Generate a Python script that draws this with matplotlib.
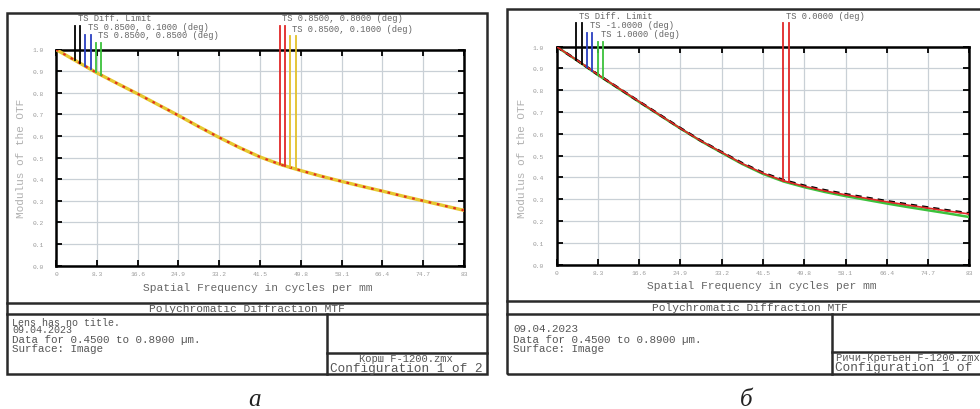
import numpy as np
import matplotlib
matplotlib.use("Agg")
import matplotlib.pyplot as plt
from matplotlib.lines import Line2D
from matplotlib.patches import Rectangle

# ---------------- data ----------------
freq = [0, 4.15, 8.3, 12.45, 16.6, 20.75, 24.9, 29.05, 33.2, 37.35, 41.5,
        45.65, 49.8, 53.95, 58.1, 62.25, 66.4, 70.55, 74.7, 78.85, 83]
x_ticks = [0, 8.3, 16.6, 24.9, 33.2, 41.5, 49.8, 58.1, 66.4, 74.7, 83]
x_tick_labels = ["0", "8.3", "16.6", "24.9", "33.2", "41.5", "49.8", "58.1", "66.4", "74.7", "83"]
y_ticks = [0.0, 0.1, 0.2, 0.3, 0.4, 0.5, 0.6, 0.7, 0.8, 0.9, 1.0]
y_tick_labels = ["0.0", "0.1", "0.2", "0.3", "0.4", "0.5", "0.6", "0.7", "0.8", "0.9", "1.0"]

# panel a (Korsch)
left_mtf = [1.000, 0.946, 0.892, 0.843, 0.795, 0.745, 0.695, 0.643, 0.593, 0.546, 0.503,
            0.468, 0.440, 0.414, 0.390, 0.367, 0.345, 0.322, 0.300, 0.278, 0.256]
# panel b (Ritchey-Chretien)
right_mtf_red = [1.000, 0.937, 0.872, 0.810, 0.748, 0.686, 0.625, 0.567, 0.515, 0.463, 0.419,
                 0.384, 0.359, 0.338, 0.320, 0.304, 0.288, 0.273, 0.259, 0.245, 0.232]
right_mtf_black = [1.000, 0.937, 0.872, 0.810, 0.748, 0.687, 0.626, 0.568, 0.516, 0.465, 0.421,
                   0.387, 0.362, 0.341, 0.323, 0.307, 0.291, 0.276, 0.262, 0.248, 0.235]
right_mtf_green = [1.000, 0.936, 0.870, 0.808, 0.746, 0.685, 0.624, 0.566, 0.513, 0.461, 0.416,
                   0.381, 0.355, 0.333, 0.314, 0.297, 0.280, 0.264, 0.249, 0.234, 0.218]

# legend markers (frequency of each T/S marker line, top level, colour)
left_leg_freq = [3.9, 4.9, 5.9, 7.1, 8.1, 9.1, 45.5, 46.5, 47.6, 48.8]
left_leg_top = [1.110, 1.110, 1.067, 1.067, 1.030, 1.030, 1.110, 1.110, 1.061, 1.061]
left_leg_col = ["k", "k", "#2a3fc0", "#2a3fc0", "#3cc23c", "#3cc23c",
                "#e02828", "#e02828", "#e3c22a", "#e3c22a"]
left_leg_labels = ["TS Diff. Limit", "TS 0.8500, 0.1000 (deg)", "TS 0.8500, 0.8500 (deg)",
                   "TS 0.8500, 0.8000 (deg)", "TS 0.8500, 0.1000 (deg)"]
left_leg_label_idx = [0, 2, 4, 6, 8]

right_leg_freq = [3.9, 5.15, 6.16, 7.16, 8.37, 9.26, 45.6, 46.8]
right_leg_top = [1.107, 1.107, 1.063, 1.063, 1.023, 1.023, 1.107, 1.107]
right_leg_col = ["k", "k", "#2a3fc0", "#2a3fc0", "#3cc23c", "#3cc23c", "#e02828", "#e02828"]
right_leg_labels = ["TS Diff. Limit", "TS -1.0000 (deg)", "TS 1.0000 (deg)", "TS 0.0000 (deg)"]
right_leg_label_idx = [0, 2, 4, 6]

MONO = "Liberation Mono"
W, H = 980, 410

fig = plt.figure(figsize=(9.8, 4.1), dpi=100)
fig.patch.set_facecolor("white")


def fx(x):
    return x / W


def fy(y):
    return 1 - y / H


def hline(y, x0, x1, lw=1.8):
    fig.add_artist(Line2D([fx(x0), fx(x1)], [fy(y), fy(y)], color="#2a2a2a", lw=lw,
                          transform=fig.transFigure))


def vline(x, y0, y1, lw=1.8):
    fig.add_artist(Line2D([fx(x), fx(x)], [fy(y0), fy(y1)], color="#2a2a2a", lw=lw,
                          transform=fig.transFigure))


def ftext(x, y, s, size=8, ha="left", color="#555555", va="center", **kw):
    fig.text(fx(x), fy(y), s, fontsize=size, ha=ha, va=va, color=color,
             family=MONO, **kw)


def make_axes(l, t, r, b):
    ax = fig.add_axes([fx(l), fy(b), fx(r) - fx(l), fy(t) - fy(b)])
    ax.set_xlim(0, 83)
    ax.set_ylim(0, 1)
    ax.set_xticks(x_ticks)
    ax.set_xticklabels(x_tick_labels)
    ax.set_yticks(y_ticks)
    ax.set_yticklabels(y_tick_labels)
    ax.grid(True, color="#c9d0d6", lw=0.9)
    ax.set_axisbelow(True)
    for s in ax.spines.values():
        s.set_linewidth(1.8)
        s.set_color("black")
    ax.tick_params(direction="in", length=4, width=1.3, top=True, right=True,
                   labelsize=4.5, labelcolor="#9a9a9a")
    ax.tick_params(axis="y", pad=9)
    ax.tick_params(axis="x", pad=4)
    for lab in ax.get_xticklabels() + ax.get_yticklabels():
        lab.set_family(MONO)
    return ax


def legend_marks(ax, curve_x, curve_y, lf, lt, lc, labels, idx):
    for f, t, c in zip(lf, lt, lc):
        bottom = np.interp(f, curve_x, curve_y)
        ax.plot([f, f], [bottom, t], color=c, lw=1.3, clip_on=False, zorder=5)
    for lab, i in zip(labels, idx):
        ax.annotate(lab, xy=(lf[i], lt[i]), xytext=(1.8, 5.8), textcoords="offset points",
                    fontsize=6.3, family=MONO, color="#666666", ha="left", va="center",
                    annotation_clip=False)


# ---------------- panel a ----------------
fig.add_artist(Rectangle((fx(7), fy(375)), fx(487) - fx(7), fy(14) - fy(375),
                         transform=fig.transFigure, fill=False, ec="#2a2a2a", lw=1.8))
hline(304.3, 7, 487)
hline(314.5, 7, 487)
vline(326.7, 314.5, 375)
hline(354.3, 326.7, 487)

ax1 = make_axes(56, 50.5, 464, 266.7)
ax1.plot(freq, left_mtf, color="k", lw=1.0, zorder=3)
ax1.plot(freq, left_mtf, color="#e6c830", lw=2.4, zorder=3)
ax1.plot(freq, left_mtf, color="#e03020", lw=1.6, ls=(0, (1.2, 2.6)), zorder=4)
legend_marks(ax1, freq, left_mtf, left_leg_freq, left_leg_top, left_leg_col,
             left_leg_labels, left_leg_label_idx)

ftext(258, 288, "Spatial Frequency in cycles per mm", size=8.1, ha="center", color="#666666")
fig.text(fx(21), fy(158), "Modulus of the OTF", rotation=90, fontsize=8, family=MONO,
         color="#b0b0b0", ha="center", va="center")
ftext(247, 309.3, "Polychromatic Diffraction MTF", size=8.1, ha="center")
ftext(12, 325.6, "Lens has no title.", size=7.2, va="baseline")
ftext(12, 333.2, "09.04.2023", size=7.2, va="baseline")
ftext(12, 340, "Data for 0.4500 to 0.8900 \u00b5m.", size=7.8)
ftext(12, 349, "Surface: Image", size=7.8)
ftext(406, 359, "Корш F-1200.zmx", size=7.6, ha="center")
ftext(406, 369, "Configuration 1 of 2", size=9.2, ha="center")

# ---------------- panel b ----------------
fig.add_artist(Rectangle((fx(507), fy(375)), fx(1000) - fx(507), fy(10) - fy(375),
                         transform=fig.transFigure, fill=False, ec="#2a2a2a", lw=1.8))
hline(301.7, 507, 990)
hline(315, 507, 990)
vline(831.7, 315, 375)
hline(352.7, 831.7, 990)

ax2 = make_axes(556.7, 47.7, 969.3, 265.5)
ax2.plot(freq, right_mtf_green, color="#3cc23c", lw=1.8, zorder=3)
ax2.plot(freq, right_mtf_black, color="k", lw=1.8, ls=(0, (2.5, 2.0)), zorder=3)
ax2.plot(freq, right_mtf_red, color="#e02828", lw=1.2, zorder=4)
legend_marks(ax2, freq, right_mtf_red, right_leg_freq, right_leg_top, right_leg_col,
             right_leg_labels, right_leg_label_idx)

ftext(762, 286.5, "Spatial Frequency in cycles per mm", size=8.1, ha="center", color="#666666")
fig.text(fx(522), fy(158), "Modulus of the OTF", rotation=90, fontsize=8, family=MONO,
         color="#b0b0b0", ha="center", va="center")
ftext(750, 308.5, "Polychromatic Diffraction MTF", size=8.1, ha="center")
ftext(513, 328.7, "09.04.2023", size=7.8)
ftext(513, 340, "Data for 0.4500 to 0.8900 \u00b5m.", size=7.8)
ftext(513, 349, "Surface: Image", size=7.8)
ftext(836, 358.2, "Ричи-Кретьен F-1200.zmx", size=7.6)
ftext(835, 368.3, "Configuration 1 of 2", size=9.2)

# panel labels
fig.text(fx(254), fy(406), "а", fontsize=18, family="Liberation Serif", style="italic",
         ha="center", va="baseline", color="#222222")
fig.text(fx(746), fy(406), "б", fontsize=18, family="Liberation Serif", style="italic",
         ha="center", va="baseline", color="#222222")

fig.savefig("out.png", dpi=100, facecolor="white")
